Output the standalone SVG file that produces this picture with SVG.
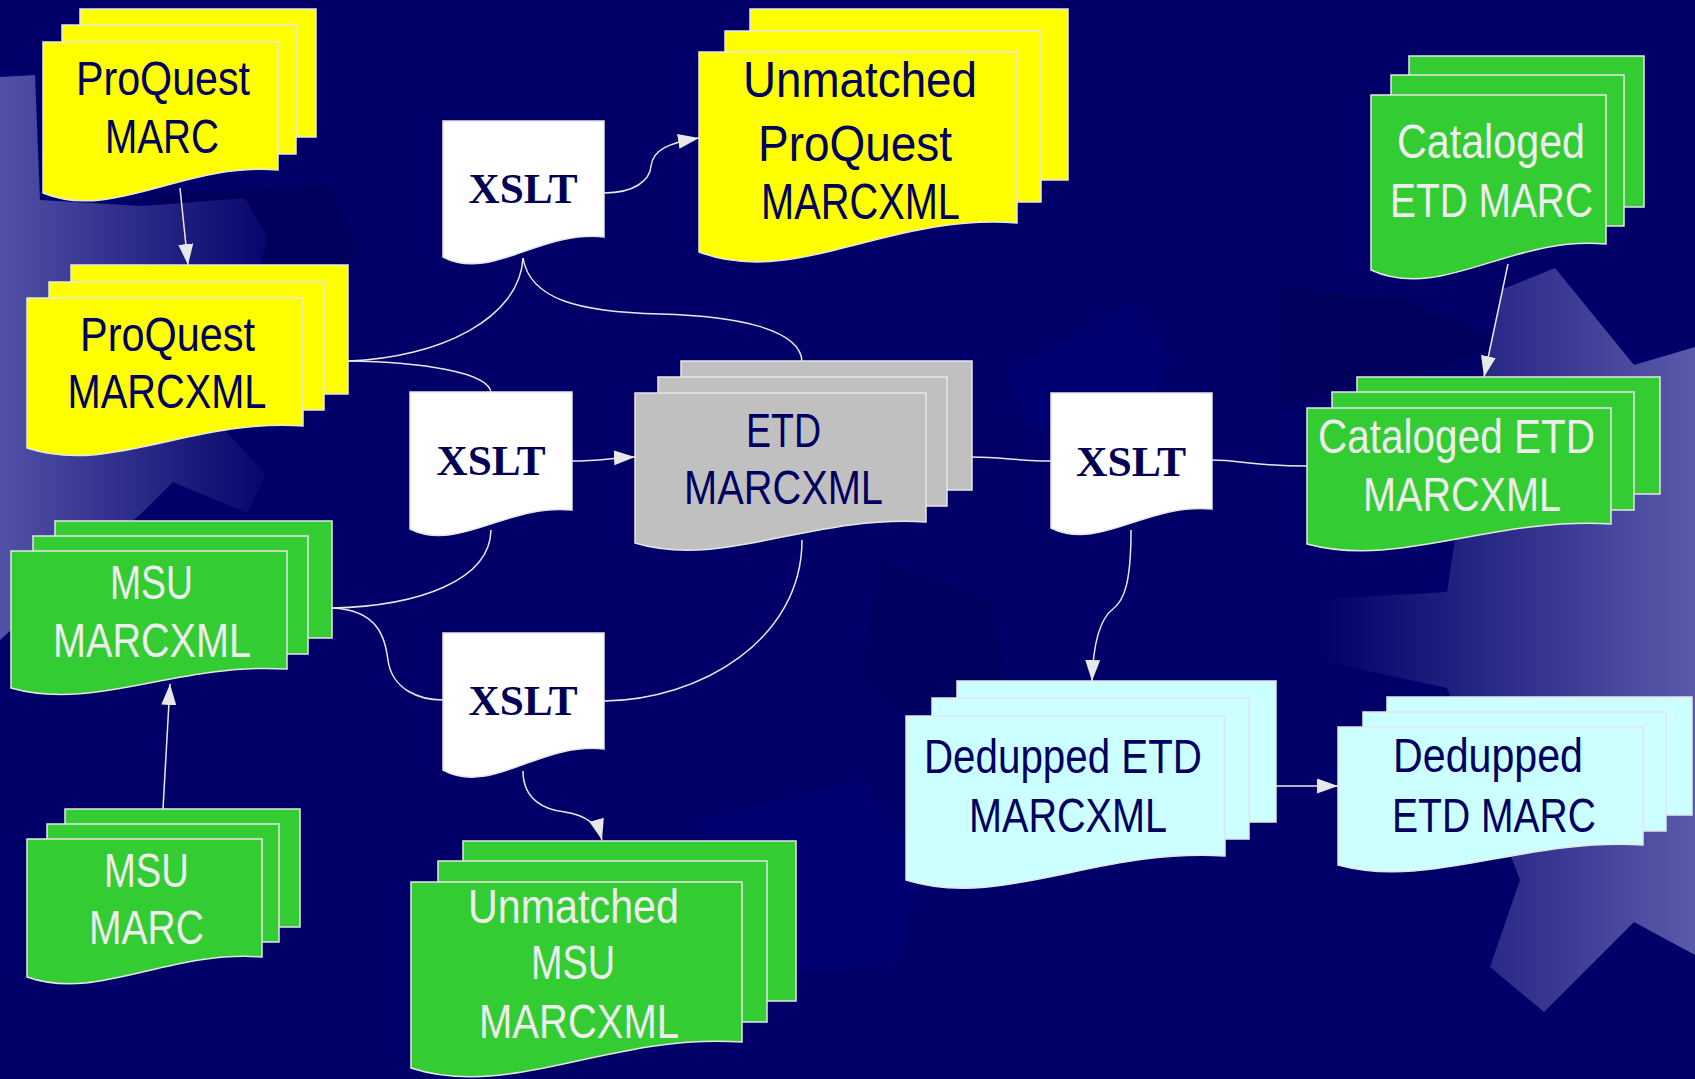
<svg xmlns="http://www.w3.org/2000/svg" width="1695" height="1079" viewBox="0 0 1695 1079">
<style>
.pg{stroke:#e6e6e6;stroke-width:1.5}
.y{fill:#ffff00}.g{fill:#33cc33}.gr{fill:#c0c0c0}.cy{fill:#ccffff}.w{fill:#ffffff}
.t{font-family:"Liberation Sans",Arial,sans-serif;font-size:48px;text-anchor:middle;fill:#000060}
.tl{fill:#eeeeee}
.x{font-family:"Liberation Serif","Times New Roman",serif;font-weight:bold;font-size:42px;text-anchor:middle;fill:#000055}
.c{fill:none;stroke:#e8e8e8;stroke-width:1.5}
.ca{fill:none;stroke:#e8e8e8;stroke-width:1.5;marker-end:url(#ah)}
</style>
<defs>
<marker id="ah" markerUnits="userSpaceOnUse" markerWidth="22" markerHeight="16" refX="21" refY="7.5" orient="auto">
<path d="M0,0 L21,7.5 L0,15 Z" fill="#e8e8e8"/>
</marker>
<linearGradient id="lg" gradientUnits="userSpaceOnUse" x1="0" y1="0" x2="285" y2="0">
<stop offset="0" stop-color="#5252a6"/><stop offset="1" stop-color="#000068"/>
</linearGradient>
<linearGradient id="rg" gradientUnits="userSpaceOnUse" x1="1320" y1="0" x2="1695" y2="0">
<stop offset="0" stop-color="#000068"/><stop offset="1" stop-color="#5a5aab"/>
</linearGradient>
</defs>
<g id="background">
<rect x="0" y="0" width="1695" height="1079" fill="#000068"/>
<polygon fill="#00005c" points="1280,288 1403,298 1500,340 1462,364 1280,405"/>
<polygon fill="#000073" points="1007,372 1132,303 1170,358 1140,420 1030,430"/>
<polygon fill="#00005c" points="150,195 330,185 360,250 300,300 190,260"/>
<polygon fill="#000072" points="700,820 860,780 920,860 900,960 760,980"/>
<polygon fill="#000060" points="880,560 990,600 1010,700 930,740 860,680"/>
<polygon fill="url(#lg)" points="0,77 35,75 40,200 143,206 245,198 268,238 250,300 222,427 266,475 247,513 173,482 146,509 0,640"/>
<polygon fill="url(#rg)" points="1503,289 1555,268 1634,365 1695,347 1695,955 1634,922 1544,1012 1490,967 1520,880 1447,688 1322,661 1322,599 1447,592 1470,440"/>
</g>
<g id="connectors">
<line class="ca" x1="180" y1="188" x2="188" y2="265"/>
<path class="ca" d="M604,193 C635,193 650,180 651,166 C653,150 668,143 699,138"/>
<path class="c" d="M523,258 C520,318 440,358 348,361"/>
<path class="c" d="M523,258 C530,300 580,312 660,314 C740,316 800,330 802,361"/>
<path class="c" d="M348,361 C420,362 490,372 491,393"/>
<path class="ca" d="M572,461 C600,461 610,458 635,457"/>
<path class="c" d="M491,530 C490,580 420,606 332,608"/>
<path class="c" d="M332,608 C380,610 385,640 388,660 C392,690 420,700 443,700"/>
<path class="c" d="M604,701 C700,700 802,640 802,540"/>
<path class="ca" d="M523,771 C523,800 545,810 565,812 C585,815 598,825 602,840"/>
<path class="c" d="M972,457 C1000,457 1020,461 1051,461"/>
<path class="c" d="M1212,460 C1240,460 1250,466 1307,466"/>
<line class="ca" x1="1508" y1="264" x2="1484" y2="377"/>
<path class="ca" d="M1131,530 C1131,580 1125,600 1113,609 C1098,620 1093,650 1092,681"/>
<line class="ca" x1="1276" y1="786" x2="1338" y2="786"/>
<line class="ca" x1="163" y1="809" x2="170" y2="684"/>
</g>
<g id="proquest-marc">
<rect class="pg y" x="80" y="9" width="236" height="128"/>
<rect class="pg y" x="62" y="25" width="234" height="129"/>
<path class="pg y" d="M43,42 H278 V170 C184,162 113.5,221.8 43,193 Z"/>
<text class="t" x="163" y="95" textLength="174" lengthAdjust="spacingAndGlyphs">ProQuest</text>
<text class="t" x="162" y="153" textLength="114" lengthAdjust="spacingAndGlyphs">MARC</text>
</g>
<g id="proquest-marcxml">
<rect class="pg y" x="71" y="265" width="277" height="129"/>
<rect class="pg y" x="49" y="282" width="275" height="128"/>
<path class="pg y" d="M27,298 H303 V426 C192.6,418.3 109.8,475.5 27,448 Z"/>
<text class="t" x="167.5" y="351" textLength="175" lengthAdjust="spacingAndGlyphs">ProQuest</text>
<text class="t" x="167" y="408" textLength="199" lengthAdjust="spacingAndGlyphs">MARCXML</text>
</g>
<g id="xslt-top">
<path class="pg w" d="M443,121 H604 V237 C539.6,230 491.3,282 443,257 Z"/>
<text class="x" x="523" y="203" textLength="109" lengthAdjust="spacingAndGlyphs">XSLT</text>
</g>
<g id="unmatched-proquest-marcxml">
<rect class="pg y" x="750" y="9" width="318" height="171"/>
<rect class="pg y" x="725" y="31" width="316" height="171"/>
<path class="pg y" d="M699,52 H1017 V223 C889.8,212.9 794.4,288.3 699,252 Z"/>
<text class="t" x="860" y="97" style="font-size:50px" textLength="234" lengthAdjust="spacingAndGlyphs">Unmatched</text>
<text class="t" x="855" y="161" style="font-size:50px" textLength="194" lengthAdjust="spacingAndGlyphs">ProQuest</text>
<text class="t" x="860.5" y="219" style="font-size:50px" textLength="199" lengthAdjust="spacingAndGlyphs">MARCXML</text>
</g>
<g id="xslt-middle">
<path class="pg w" d="M410,392 H572 V510 C507.2,503.4 458.6,552.8 410,529 Z"/>
<text class="x" x="491" y="475" textLength="109" lengthAdjust="spacingAndGlyphs">XSLT</text>
</g>
<g id="etd-marcxml">
<rect class="pg gr" x="681" y="361" width="291" height="129"/>
<rect class="pg gr" x="658" y="377" width="289" height="129"/>
<path class="pg gr" d="M635,393 H926 V522 C809.6,514.7 722.3,569.3 635,543 Z"/>
<text class="t" x="783.5" y="447" textLength="75" lengthAdjust="spacingAndGlyphs">ETD</text>
<text class="t" x="783.5" y="504" textLength="199" lengthAdjust="spacingAndGlyphs">MARCXML</text>
</g>
<g id="xslt-right">
<path class="pg w" d="M1051,393 H1212 V509 C1147.6,502.4 1099.3,551.8 1051,528 Z"/>
<text class="x" x="1131" y="476" textLength="110" lengthAdjust="spacingAndGlyphs">XSLT</text>
</g>
<g id="msu-marcxml">
<rect class="pg g" x="55" y="521" width="277" height="117"/>
<rect class="pg g" x="33" y="536" width="275" height="118"/>
<path class="pg g" d="M11,551 H287 V669 C176.6,662.4 93.8,711.8 11,688 Z"/>
<text class="t tl" x="151.5" y="599" textLength="83" lengthAdjust="spacingAndGlyphs">MSU</text>
<text class="t tl" x="152" y="657" textLength="198" lengthAdjust="spacingAndGlyphs">MARCXML</text>
</g>
<g id="xslt-bottom">
<path class="pg w" d="M443,633 H604 V749 C539.6,741.7 491.3,796.3 443,770 Z"/>
<text class="x" x="523" y="715" textLength="109" lengthAdjust="spacingAndGlyphs">XSLT</text>
</g>
<g id="msu-marc">
<rect class="pg g" x="65" y="809" width="235" height="118"/>
<rect class="pg g" x="47" y="824" width="232" height="118"/>
<path class="pg g" d="M27,839 H262 V957 C168,950 97.5,1002 27,977 Z"/>
<text class="t tl" x="146.5" y="887" textLength="85" lengthAdjust="spacingAndGlyphs">MSU</text>
<text class="t tl" x="146.5" y="944" textLength="115" lengthAdjust="spacingAndGlyphs">MARC</text>
</g>
<g id="unmatched-msu-marcxml">
<rect class="pg g" x="463" y="841" width="333" height="160"/>
<rect class="pg g" x="438" y="861" width="329" height="161"/>
<path class="pg g" d="M411,882 H742 V1042 C609.6,1032.9 510.3,1100.5 411,1068 Z"/>
<text class="t tl" x="573.5" y="923" textLength="211" lengthAdjust="spacingAndGlyphs">Unmatched</text>
<text class="t tl" x="573" y="979" textLength="84" lengthAdjust="spacingAndGlyphs">MSU</text>
<text class="t tl" x="579" y="1038" textLength="200" lengthAdjust="spacingAndGlyphs">MARCXML</text>
</g>
<g id="cataloged-etd-marc">
<rect class="pg g" x="1409" y="56" width="235" height="151"/>
<rect class="pg g" x="1391" y="75" width="233" height="151"/>
<path class="pg g" d="M1371,95 H1606 V244 C1512,234.9 1441.5,302.5 1371,270 Z"/>
<text class="t tl" x="1491" y="158" textLength="188" lengthAdjust="spacingAndGlyphs">Cataloged</text>
<text class="t tl" x="1491.5" y="216.5" textLength="203" lengthAdjust="spacingAndGlyphs">ETD MARC</text>
</g>
<g id="cataloged-etd-marcxml">
<rect class="pg g" x="1357" y="377" width="303" height="117"/>
<rect class="pg g" x="1332" y="392" width="302" height="118"/>
<path class="pg g" d="M1307,408 H1611 V524 C1489.4,517 1398.2,569 1307,544 Z"/>
<text class="t tl" x="1456.5" y="453" textLength="277" lengthAdjust="spacingAndGlyphs">Cataloged ETD</text>
<text class="t tl" x="1462" y="511" textLength="198" lengthAdjust="spacingAndGlyphs">MARCXML</text>
</g>
<g id="dedupped-etd-marcxml">
<rect class="pg cy" x="957" y="681" width="319" height="141"/>
<rect class="pg cy" x="932" y="698" width="317" height="141"/>
<path class="pg cy" d="M906,716 H1225 V856 C1097.4,847.6 1001.7,910 906,880 Z"/>
<text class="t" x="1063" y="773" textLength="278" lengthAdjust="spacingAndGlyphs">Dedupped ETD</text>
<text class="t" x="1068" y="832" textLength="198" lengthAdjust="spacingAndGlyphs">MARCXML</text>
</g>
<g id="dedupped-etd-marc">
<rect class="pg cy" x="1387" y="697" width="305" height="118"/>
<rect class="pg cy" x="1363" y="712" width="303" height="119"/>
<path class="pg cy" d="M1338,727 H1643 V845 C1521,838 1429.5,890 1338,865 Z"/>
<text class="t" x="1488" y="772" textLength="190" lengthAdjust="spacingAndGlyphs">Dedupped</text>
<text class="t" x="1494" y="832" textLength="204" lengthAdjust="spacingAndGlyphs">ETD MARC</text>
</g>
</svg>
